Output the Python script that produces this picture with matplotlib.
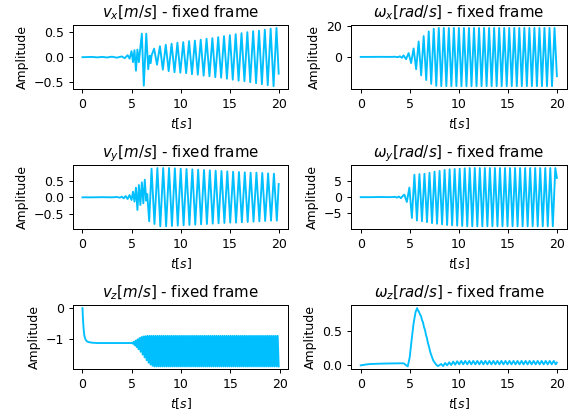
import numpy as np
import matplotlib
matplotlib.use("Agg")
import matplotlib.pyplot as plt

LINE_COLOR = "deepskyblue"
S = 0.9  # the reference looks like default sizes rendered at ~90 dpi

# ---- values ----
# each signal: a quiet "head" (t, y), then a zigzag of extrema (tops / bottoms
# alternating, last listed value held) with a fixed half period, then a tail point

vx_head_t = [0, 0.5, 1, 1.5, 2, 2.5, 3, 3.5, 4, 4.3, 4.6, 4.8, 5.0, 5.15, 5.3,
             5.45, 5.6, 5.75, 5.85, 6.05, 6.25, 6.5, 6.7, 6.85, 6.95, 7.05]
vx_head_y = [0, 0.002, 0.005, -0.004, 0.006, -0.006, 0.01, -0.01, 0.015, -0.02,
             0.04, -0.03, 0.12, -0.1, 0.14, -0.27, 0.15, -0.1, 0.1, 0.47, -0.57,
             0.47, -0.24, 0.03, -0.12, 0.04]
vx_tops = [0.17, 0.22, 0.25, 0.27, 0.29, 0.30, 0.32, 0.33, 0.35, 0.37, 0.38,
           0.40, 0.42, 0.44, 0.46, 0.48, 0.50, 0.52, 0.53, 0.55, 0.57, 0.585]
vx_bottoms = [-0.15, -0.25, -0.28, -0.30, -0.31, -0.32, -0.34, -0.35, -0.37,
              -0.38, -0.40, -0.41, -0.43, -0.45, -0.47, -0.48, -0.50, -0.52,
              -0.54, -0.56, -0.58]
vx_zig = (7.3, 0.297, 19.77)
vx_tail_t, vx_tail_y = [20.0], [-0.33]

wx_head_t = [0, 1, 2, 3, 3.5, 3.8, 4.0, 4.2]
wx_head_y = [0, 0, 0.05, 0, 0.1, -0.2, 0.4, -0.6]
wx_tops = [1.0, 2.5, 5.5, 10.0, 13.5, 16.5, 18.3, 18.8]
wx_bottoms = [-1.5, -4.0, -8.0, -12.0, -15.0, -17.5, -18.8, -19.0]
wx_zig = (4.37, 0.2565, 19.76)
wx_tail_t, wx_tail_y = [20.0], [-12.5]

vy_head_t = [0, 1, 2, 3, 3.5, 3.8, 4.0, 4.2, 4.4, 4.6, 4.8, 5.0, 5.15, 5.3,
             5.45, 5.6, 5.75, 5.9, 6.05, 6.2, 6.35, 6.5, 6.6, 6.8]
vy_head_y = [0, 0, 0.005, 0, 0.01, -0.01, 0.02, -0.03, 0.04, -0.05, 0.07, -0.08,
             0.17, -0.13, 0.29, -0.38, 0.37, -0.23, 0.45, -0.18, 0.53, -0.1,
             0.1, -0.72]
vy_tops = [0.86, 0.88, 0.88, 0.88, 0.87, 0.86, 0.85, 0.84, 0.83, 0.82, 0.81,
           0.80, 0.79, 0.78, 0.77, 0.76, 0.75, 0.74, 0.74, 0.73, 0.72, 0.71]
vy_bottoms = [-0.80, -0.87, -0.87, -0.86, -0.85, -0.84, -0.83, -0.82, -0.81,
              -0.80, -0.79, -0.78, -0.77, -0.76, -0.76, -0.75, -0.74, -0.73,
              -0.72, -0.71, -0.70, -0.70]
vy_zig = (7.04, 0.297, 19.81)
vy_tail_t, vy_tail_y = [20.0], [0.4]

wy_head_t = [0, 1, 2, 3, 3.5, 3.7, 3.9, 4.1, 4.3]
wy_head_y = [0, 0, 0.05, 0, 0.1, -0.15, 0.2, -0.3, 0.4]
wy_tops = [0.8, 3.0, 7.0, 7.2, 7.3, 7.6, 8.0, 8.2, 8.5, 8.7, 8.8, 8.9, 9.0, 9.1]
wy_bottoms = [-1.5, -6.5, -7.3, -7.5, -7.8, -8.1, -8.3, -8.5, -8.7, -8.8, -8.9,
              -9.0, -9.1]
wy_zig = (4.45, 0.2565, 19.84)
wy_tail_t, wy_tail_y = [20.0], [6.0]

vz_head_t = [0, 0.05, 0.1, 0.15, 0.2, 0.3, 0.4, 0.6, 0.8, 1.0, 1.5, 2, 3, 4,
             4.5, 4.9]
vz_head_y = [0, -0.35, -0.6, -0.78, -0.9, -1.0, -1.05, -1.09, -1.1, -1.11,
             -1.12, -1.12, -1.12, -1.12, -1.12, -1.12]
vz_tops = [-1.11, -1.08, -1.04, -1.0, -0.96, -0.93, -0.91, -0.90, -0.89]
vz_bottoms = [-1.14, -1.19, -1.25, -1.32, -1.40, -1.49, -1.58, -1.67, -1.75,
              -1.81, -1.85, -1.87]
vz_zig = (5.0, 0.1, 19.9)
vz_tail_t, vz_tail_y = [], []

wz_head_t = [0, 0.5, 1, 2, 3, 4, 4.4, 4.6, 4.8, 5.0, 5.2, 5.4, 5.6, 5.75, 5.85,
             5.95, 6.05, 6.15, 6.25, 6.35, 6.45, 6.55, 6.65, 6.75, 6.85, 6.95,
             7.1, 7.25, 7.4, 7.55, 7.7, 7.85, 8.0]
wz_head_y = [0, 0.012, 0.02, 0.025, 0.028, 0.03, 0.03, 0.005, -0.015, 0.12,
             0.38, 0.62, 0.78, 0.835, 0.80, 0.78, 0.74, 0.72, 0.66, 0.63, 0.56,
             0.52, 0.45, 0.40, 0.33, 0.28, 0.19, 0.13, 0.07, 0.04, 0.01, -0.01,
             0.0]
wz_tops = [0.02, 0.035, 0.045, 0.055, 0.06, 0.065]
wz_bottoms = [-0.01, 0.0, 0.005, 0.01, 0.015]
wz_zig = (8.2, 0.205, 19.9)
wz_tail_t, wz_tail_y = [20.0], [0.04]

x_ticks = [0, 5, 10, 15, 20]


def zigzag(t0, half, t_end, tops, bottoms):
    n = int(round((t_end - t0) / half)) + 1
    t = t0 + half * np.arange(n)
    y = [tops[min(i // 2, len(tops) - 1)] if i % 2 == 0
         else bottoms[min(i // 2, len(bottoms) - 1)] for i in range(n)]
    return t, np.array(y)


def signal(head_t, head_y, zig, tops, bottoms, tail_t, tail_y):
    zt, zy = zigzag(*zig, tops, bottoms)
    t = np.concatenate([head_t, zt, tail_t])
    y = np.concatenate([head_y, zy, tail_y])
    return t, y


panels = [
    (r"$v_x[m/s]$ - fixed frame",
     signal(vx_head_t, vx_head_y, vx_zig, vx_tops, vx_bottoms, vx_tail_t, vx_tail_y),
     [-0.5, 0.0, 0.5]),
    (r"$\omega_x[rad/s]$ - fixed frame",
     signal(wx_head_t, wx_head_y, wx_zig, wx_tops, wx_bottoms, wx_tail_t, wx_tail_y),
     [0, 20]),
    (r"$v_y[m/s]$ - fixed frame",
     signal(vy_head_t, vy_head_y, vy_zig, vy_tops, vy_bottoms, vy_tail_t, vy_tail_y),
     [-0.5, 0.0, 0.5]),
    (r"$\omega_y[rad/s]$ - fixed frame",
     signal(wy_head_t, wy_head_y, wy_zig, wy_tops, wy_bottoms, wy_tail_t, wy_tail_y),
     [-5, 0, 5]),
    (r"$v_z[m/s]$ - fixed frame",
     signal(vz_head_t, vz_head_y, vz_zig, vz_tops, vz_bottoms, vz_tail_t, vz_tail_y),
     [-1, 0]),
    (r"$\omega_z[rad/s]$ - fixed frame",
     signal(wz_head_t, wz_head_y, wz_zig, wz_tops, wz_bottoms, wz_tail_t, wz_tail_y),
     [0.0, 0.5]),
]

plt.rcParams.update({
    "font.size": 10 * S,
    "lines.linewidth": 1.5 * S,
    "axes.linewidth": 0.8 * S,
    "axes.titlepad": 6 * S,
    "axes.labelpad": 4 * S,
    "xtick.major.size": 3.5 * S,
    "ytick.major.size": 3.5 * S,
    "xtick.major.width": 0.8 * S,
    "ytick.major.width": 0.8 * S,
    "xtick.major.pad": 3.5 * S,
    "ytick.major.pad": 3.5 * S,
})

fig, axes = plt.subplots(3, 2, figsize=(5.7, 4.12), dpi=100)
fig.subplots_adjust(left=0.1275, right=0.9942, bottom=0.1036, top=0.9393,
                    wspace=0.289, hspace=1.186)

for ax, (title, (t, y), yticks) in zip(axes.flat, panels):
    ax.plot(t, y, color=LINE_COLOR)
    ax.set_title(title)
    ax.set_xlabel(r"$t[s]$")
    ax.set_ylabel("Amplitude")
    ax.set_xticks(x_ticks)
    ax.set_yticks(yticks)

fig.savefig("out.png", dpi=100)
plt.close(fig)
